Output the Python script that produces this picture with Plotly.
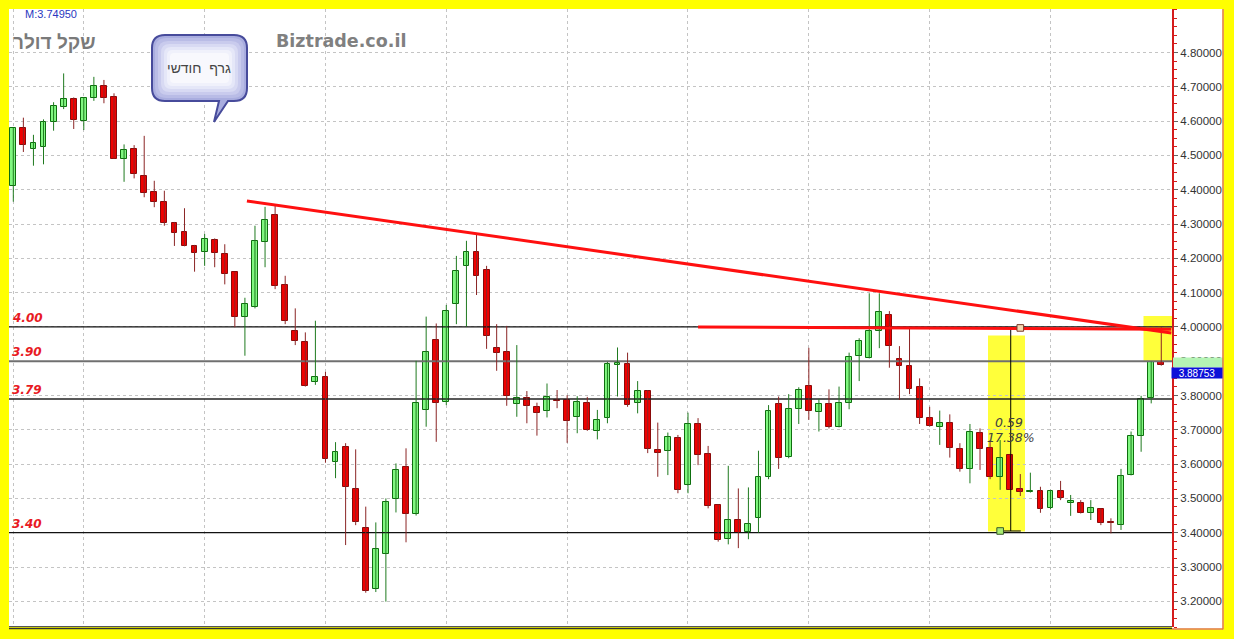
import plotly.graph_objects as go

# ---------------- data (monthly USD/ILS candles) ----------------
opens = [4.41, 4.58, 4.52, 4.525, 4.598, 4.642, 4.664, 4.601, 4.668, 4.702,
         4.669, 4.489, 4.518, 4.44, 4.392, 4.365, 4.304, 4.276, 4.237, 4.217,
         4.253, 4.213, 4.159, 4.028, 4.059, 4.247, 4.326, 4.122, 3.988, 3.955,
         3.84, 3.855, 3.607, 3.649, 3.527, 3.415, 3.236, 3.338, 3.498, 3.591,
         3.455, 3.758, 3.962, 3.78, 4.067, 4.178, 4.217, 4.166, 3.939, 3.926,
         3.775, 3.794, 3.766, 3.756, 3.786, 3.787, 3.736, 3.777, 3.697, 3.734,
         3.889, 3.892, 3.777, 3.814, 3.641, 3.639, 3.677, 3.539, 3.717, 3.629,
         3.481, 3.381, 3.437, 3.401, 3.442, 3.561, 3.775, 3.622, 3.76, 3.829,
         3.753, 3.774, 3.709, 3.777, 3.915, 3.908, 3.988, 4.035, 3.906, 3.887,
         3.824, 3.734, 3.709, 3.721, 3.644, 3.586, 3.69, 3.646, 3.563, 3.627,
         3.527, 3.519, 3.522, 3.471, 3.522, 3.488, 3.488, 3.458, 3.469, 3.429,
         3.422, 3.568, 3.683, 3.792, 3.897]
highs = [4.58, 4.61, 4.56, 4.605, 4.655, 4.739, 4.669, 4.67, 4.729, 4.72,
         4.681, 4.532, 4.53, 4.557, 4.426, 4.397, 4.306, 4.346, 4.239, 4.271,
         4.258, 4.241, 4.16, 4.085, 4.295, 4.35, 4.353, 4.149, 4.054, 3.984,
         4.018, 3.869, 3.664, 3.661, 3.643, 3.476, 3.43, 3.5, 3.602, 3.646,
         3.901, 4.03, 4.01, 4.064, 4.207, 4.251, 4.273, 4.178, 4.008, 4.003,
         3.947, 3.813, 3.779, 3.835, 3.816, 3.801, 3.798, 3.796, 3.758, 3.898,
         3.94, 3.925, 3.842, 3.816, 3.721, 3.692, 3.685, 3.75, 3.734, 3.653,
         3.482, 3.595, 3.529, 3.532, 3.639, 3.772, 3.797, 3.804, 3.824, 3.939,
         3.79, 3.818, 3.826, 3.925, 3.967, 4.098, 4.098, 4.046, 3.944, 3.994,
         3.85, 3.767, 3.756, 3.745, 3.661, 3.717, 3.704, 3.67, 3.67, 3.63,
         3.571, 3.575, 3.534, 3.525, 3.551, 3.51, 3.495, 3.495, 3.471, 3.442,
         3.586, 3.695, 3.799, 3.899, 3.999]
lows = [4.365, 4.51, 4.47, 4.474, 4.572, 4.635, 4.577, 4.574, 4.659, 4.652,
        4.49, 4.423, 4.433, 4.378, 4.349, 4.295, 4.236, 4.235, 4.161, 4.178,
        4.174, 4.124, 3.999, 3.916, 4.054, 4.174, 4.11, 4.008, 3.947, 3.826,
        3.831, 3.604, 3.559, 3.364, 3.422, 3.225, 3.227, 3.199, 3.459, 3.372,
        3.45, 3.709, 3.665, 3.772, 4.008, 4.001, 4.093, 3.936, 3.872, 3.77,
        3.738, 3.719, 3.683, 3.736, 3.763, 3.662, 3.69, 3.697, 3.672, 3.719,
        3.797, 3.767, 3.748, 3.632, 3.563, 3.568, 3.515, 3.515, 3.597, 3.471,
        3.374, 3.366, 3.355, 3.381, 3.40, 3.556, 3.586, 3.617, 3.717, 3.729,
        3.695, 3.704, 3.707, 3.76, 3.842, 3.908, 3.938, 3.881, 3.787, 3.804,
        3.717, 3.709, 3.656, 3.619, 3.578, 3.544, 3.583, 3.556, 3.525, 3.525,
        3.507, 3.517, 3.458, 3.469, 3.495, 3.449, 3.456, 3.437, 3.422, 3.398,
        3.408, 3.567, 3.636, 3.777, 3.887]
closes = [4.58, 4.53, 4.535, 4.596, 4.644, 4.664, 4.603, 4.666, 4.702, 4.668,
          4.49, 4.516, 4.446, 4.389, 4.365, 4.304, 4.275, 4.237, 4.215, 4.255,
          4.215, 4.154, 4.028, 4.066, 4.25, 4.311, 4.12, 4.018, 3.959, 3.829,
          3.855, 3.614, 3.636, 3.534, 3.43, 3.23, 3.352, 3.489, 3.583, 3.455,
          3.777, 3.926, 3.777, 4.047, 4.164, 4.217, 4.149, 3.974, 3.923, 3.799,
          3.794, 3.769, 3.748, 3.795, 3.784, 3.727, 3.782, 3.699, 3.729, 3.891,
          3.894, 3.772, 3.814, 3.643, 3.632, 3.678, 3.525, 3.717, 3.627, 3.479,
          3.379, 3.437, 3.40, 3.425, 3.562, 3.756, 3.619, 3.76, 3.816, 3.755,
          3.774, 3.707, 3.777, 3.913, 3.959, 3.988, 4.043, 3.944, 3.887, 3.818,
          3.734, 3.711, 3.721, 3.648, 3.586, 3.693, 3.643, 3.562, 3.617, 3.525,
          3.518, 3.521, 3.468, 3.522, 3.502, 3.489, 3.458, 3.471, 3.427, 3.427,
          3.566, 3.682, 3.79, 3.898, 3.888]

level_values = [4.00, 3.90, 3.79, 3.40]
level_labels = ["4.00", "3.90", "3.79", "3.40"]
ytick_values = [3.2, 3.3, 3.4, 3.5, 3.6, 3.7, 3.8, 3.9, 4.0, 4.1, 4.2, 4.3, 4.4, 4.5, 4.6, 4.7, 4.8]
ytick_labels = ["%.5f" % v for v in ytick_values]
year_grid = [0, 7, 19, 31, 43, 55, 67, 79, 91, 103]
trend_x = [23.2, 115.0]
trend_y = [4.367, 3.982]
resist_x = [68.0, 115.0]
resist_y = [4.000, 3.993]
measure_idx = 99.05
measure_hi = 3.997
measure_lo = 3.405
measure_texts = ["0.59", "17.38%"]
last_price_text = "3.88753"
mid_text = "M:3.74950"
title_he = "שקל דולר"
site_text = "Biztrade.co.il"
bubble_text = "גרף  חודשי"

# ---------------- pixel helpers (layout only) ----------------
XS, X0 = 10.07, 13.3
YS, Y0 = 343.0, 52.5
def X(px): return (px - X0) / XS
def Y(py): return 4.8 - (py - Y0) / YS
PL, PR, PT, PB = 9, 1172, 9, 627
def PX(px): return (px - PL) / (PR - PL)
def PY(py): return (PB - py) / (PB - PT)

n = len(opens)
idx = list(range(n))
up = [c > o for o, c in zip(opens, closes)]

fig = go.Figure()

# horizontal support / resistance levels (drawn above the dotted grid, below candles)
for v, col, w in zip(level_values, ["#111111", "#707070", "#222222", "#111111"], [1.2, 2, 1.5, 1.2]):
    fig.add_trace(go.Scatter(x=[X(PL), X(PR)], y=[v, v], mode="lines", line=dict(color=col, width=w),
                             hoverinfo="skip", showlegend=False))

# wicks
for is_up, col in [(True, "#1f7a1f"), (False, "#8b2525")]:
    wx, wy = [], []
    for i in idx:
        if up[i] == is_up:
            wx += [i, i, None]
            wy += [lows[i], highs[i], None]
    fig.add_trace(go.Scatter(x=wx, y=wy, mode="lines", line=dict(color=col, width=1),
                             hoverinfo="skip", showlegend=False))

# bodies
for is_up, fill, edge in [(True, "#80f880", "#0e6e0e"), (False, "#f00000", "#8a0a0a")]:
    bx = [i for i in idx if up[i] == is_up]
    base = [min(opens[i], closes[i]) for i in bx]
    hgt = [max(abs(closes[i] - opens[i]), 0.003) for i in bx]
    fig.add_trace(go.Bar(x=bx, y=hgt, base=base, width=0.58,
                         marker=dict(color=fill, line=dict(color=edge, width=1)),
                         hoverinfo="skip", showlegend=False))

shapes = []
# white panel for right axis
shapes.append(dict(type="rect", xref="paper", yref="paper", x0=PX(1172), x1=PX(1223.5),
                   y0=PY(629.5), y1=PY(9), fillcolor="white", line=dict(width=0), layer="below"))
# yellow highlights
shapes.append(dict(type="rect", xref="x", yref="y", x0=X(988), x1=X(1025), y0=Y(531.5), y1=Y(335.5),
                   fillcolor="#ffff3a", line=dict(width=0), layer="below"))
shapes.append(dict(type="rect", xref="x", yref="y", x0=X(1143.5), x1=X(1172), y0=Y(362), y1=Y(316),
                   fillcolor="#ffff3a", line=dict(width=0), layer="below"))
# measurement tool
shapes.append(dict(type="line", xref="x", yref="y", x0=measure_idx, x1=measure_idx,
                   y0=measure_lo, y1=measure_hi, line=dict(color="black", width=1), layer="above"))
shapes.append(dict(type="line", xref="x", yref="y", x0=measure_idx - 1.05, x1=measure_idx + 1.0,
                   y0=measure_lo, y1=measure_lo, line=dict(color="black", width=1), layer="above"))
# trend lines
shapes.append(dict(type="line", xref="x", yref="y", x0=trend_x[0], x1=trend_x[1], y0=trend_y[0], y1=trend_y[1],
                   line=dict(color="#ff1010", width=3), layer="above"))
shapes.append(dict(type="line", xref="x", yref="y", x0=resist_x[0], x1=resist_x[1], y0=resist_y[0], y1=resist_y[1],
                   line=dict(color="#ff1010", width=3), layer="above"))
# measurement squares
for cx, cy, fc, lc in [(measure_idx + 0.95, measure_hi, "#f4d8b0", "#7a3a2a"),
                       (measure_idx - 1.05, measure_lo, "#a8ec70", "#3a5a2a")]:
    shapes.append(dict(type="rect", xref="x", yref="y", x0=cx - 0.33, x1=cx + 0.33,
                       y0=cy - 3.3 / YS, y1=cy + 3.3 / YS, fillcolor=fc, line=dict(color=lc, width=1),
                       layer="above"))
# green current-price marker on axis
shapes.append(dict(type="rect", xref="paper", yref="paper", x0=PX(1173), x1=PX(1223), y0=PY(367.5), y1=PY(357.5),
                   fillcolor="#b4f4b4", line=dict(width=0), layer="above"))
# orange panel border
shapes.append(dict(type="line", xref="paper", yref="paper", x0=PX(1223), x1=PX(1223), y0=PY(629.5), y1=PY(9),
                   line=dict(color="#e07838", width=1.5), layer="above"))
shapes.append(dict(type="line", xref="paper", yref="paper", x0=PX(1172), x1=PX(1223), y0=PY(629), y1=PY(629),
                   line=dict(color="#e07838", width=1.5), layer="above"))
# bottom double line
shapes.append(dict(type="line", xref="paper", yref="paper", x0=PX(9), x1=PX(1172), y0=PY(626.5), y1=PY(626.5),
                   line=dict(color="#555555", width=1), layer="above"))
shapes.append(dict(type="line", xref="paper", yref="paper", x0=PX(9), x1=PX(1172), y0=PY(628.5), y1=PY(628.5),
                   line=dict(color="#333333", width=1.5), layer="above"))


# speech bubble
def P(px, py):
    return "%.4f,%.5f" % (X(px), Y(py))

def rrect(x0, y0, x1, y1, r, tail=None):
    s = "M%s L%s Q%s %s L%s Q%s %s " % (P(x0 + r, y0), P(x1 - r, y0), P(x1, y0), P(x1, y0 + r),
                                        P(x1, y1 - r), P(x1, y1), P(x1 - r, y1))
    if tail:
        s += "L%s L%s L%s " % (P(tail[0], y1), P(tail[2], tail[3]), P(tail[1], y1))
    s += "L%s Q%s %s L%s Q%s %s Z" % (P(x0 + r, y1), P(x0, y1), P(x0, y1 - r), P(x0, y0 + r),
                                     P(x0, y0), P(x0 + r, y0))
    return s

shapes.append(dict(type="path", xref="x", yref="y", path=rrect(152, 35, 247, 101, 13, tail=(228, 219, 214, 122)),
                   fillcolor="#a9addf", line=dict(color="#474b9b", width=2), layer="above"))
for ins, col in [(3, "#b9bce6"), (6, "#c9cbed"), (9, "#d8daf3"), (12, "#e5e7f8"), (15, "#f0f1fb"), (18, "#f8f8fd")]:
    shapes.append(dict(type="path", xref="x", yref="y",
                       path=rrect(152 + ins, 35 + ins, 247 - ins, 101 - ins, max(13 - ins * 0.5, 4)),
                       fillcolor=col, line=dict(width=0), layer="above"))

annotations = []
# level labels
for v, t in zip(level_values, level_labels):
    annotations.append(dict(x=X(9.5), y=v, xref="x", yref="y", text=t, showarrow=False,
                            xanchor="left", yanchor="bottom", yshift=0,
                            font=dict(family="DejaVu Sans", size=12, color="#e81a24", weight="bold", style="italic")))
# top texts
annotations.append(dict(x=X(23), y=Y(14), xref="x", yref="y", text=mid_text, showarrow=False,
                        xanchor="left", yanchor="middle",
                        font=dict(family="Liberation Sans", size=11, color="#2a38c0")))
annotations.append(dict(x=X(97), y=Y(42), xref="x", yref="y", text=title_he, showarrow=False,
                        xanchor="right", yanchor="middle",
                        font=dict(family="Liberation Sans, DejaVu Sans", size=19, color="#7a7a7a", weight="bold")))
annotations.append(dict(x=X(274), y=Y(41), xref="x", yref="y", text=site_text, showarrow=False,
                        xanchor="left", yanchor="middle",
                        font=dict(family="DejaVu Sans", size=17.5, color="#808080", weight="bold")))
annotations.append(dict(x=X(199), y=Y(68), xref="x", yref="y", text=bubble_text, showarrow=False,
                        xanchor="center", yanchor="middle",
                        font=dict(family="Liberation Sans, DejaVu Sans", size=14, color="#454545")))
# measurement texts
annotations.append(dict(x=X(1009), y=Y(422.5), xref="x", yref="y", text=measure_texts[0], showarrow=False,
                        xanchor="center", yanchor="middle",
                        font=dict(family="DejaVu Sans", size=12.5, color="#404040", style="italic")))
annotations.append(dict(x=X(1011), y=Y(437.5), xref="x", yref="y", text=measure_texts[1], showarrow=False,
                        xanchor="center", yanchor="middle",
                        font=dict(family="DejaVu Sans", size=12.5, color="#404040", style="italic")))
# last price box
annotations.append(dict(x=PX(1196.5), y=PY(373), xref="paper", yref="paper", text=last_price_text, showarrow=False,
                        xanchor="center", yanchor="middle", bgcolor="#0c10d8", borderpad=0,
                        width=50, height=10,
                        font=dict(family="Liberation Sans", size=10, color="white")))

fig.update_layout(
    width=1234, height=639,
    margin=dict(l=PL, r=1234 - PR, t=PT, b=639 - PB, pad=0),
    paper_bgcolor="#ffff00", plot_bgcolor="white",
    barmode="overlay", bargap=0, showlegend=False,
    shapes=shapes, annotations=annotations,
    xaxis=dict(range=[X(PL), X(PR)], tickvals=year_grid, showticklabels=False, ticks="",
               showgrid=True, gridcolor="#c4c4c4", griddash="dot", gridwidth=1,
               zeroline=False, showline=False, fixedrange=True),
    yaxis=dict(range=[Y(PB), Y(PT)], side="right", tickvals=ytick_values, ticktext=ytick_labels,
               showgrid=True, gridcolor="#c4c4c4", griddash="dot", gridwidth=1,
               zeroline=False, showline=True, linecolor="#d41c1c", linewidth=2,
               ticks="outside", ticklen=4, tickcolor="#666666", tickwidth=1,
               minor=dict(dtick=0.025, ticks="outside", ticklen=3, tickcolor="#d41c1c", showgrid=False),
               tickfont=dict(family="Liberation Sans", size=11.5, color="#333333"), fixedrange=True),
)

fig.write_html("out.html", config={"displayModeBar": False},
               post_script="document.body.style.margin='0px';document.body.style.overflow='hidden';")
